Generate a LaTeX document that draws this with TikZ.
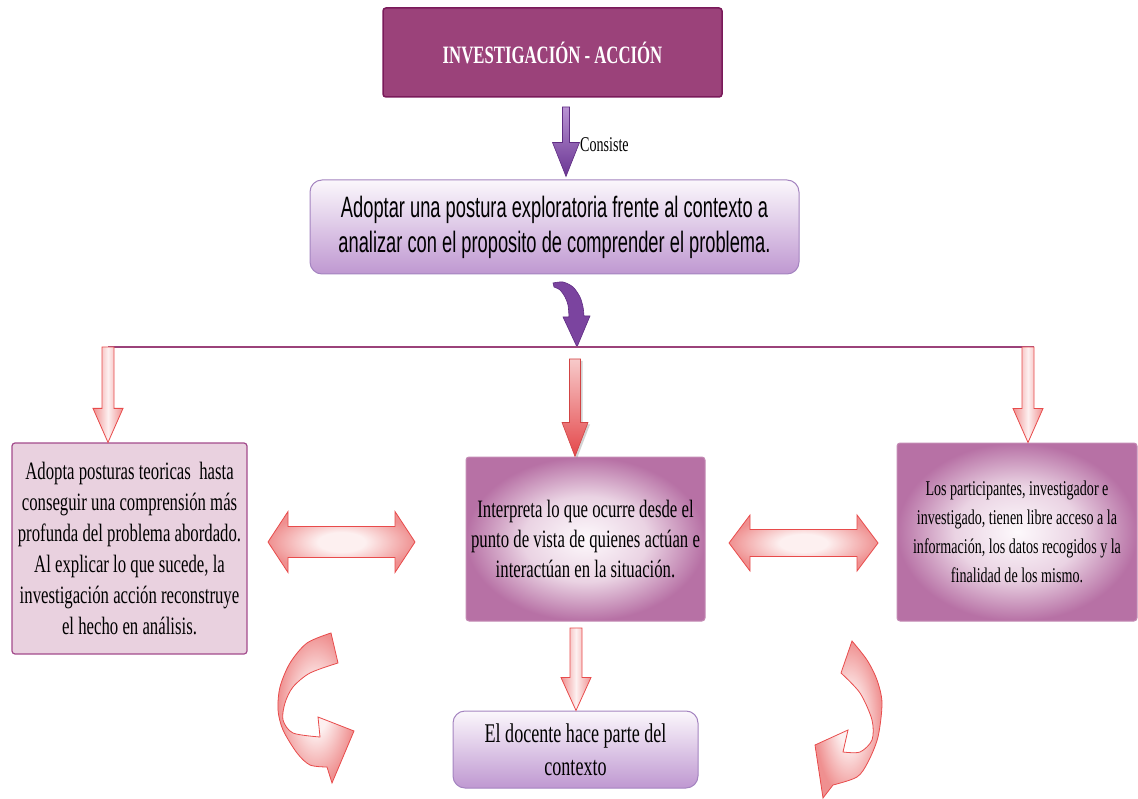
\documentclass[tikz,border=0pt]{standalone}
\usepackage{fontspec}
\usetikzlibrary{calc,positioning,shadows}
\newfontfamily\boxserif[FakeStretch=0.67]{Liberation Serif}
\newfontfamily\boxsans[FakeStretch=0.62]{Liberation Sans}
\definecolor{titlefill}{HTML}{9B427A}
\definecolor{titledraw}{HTML}{7A1A5A}
\definecolor{lilatop}{HTML}{FBF7FC}
\definecolor{lilabottom}{HTML}{BF98D1}
\definecolor{liladraw}{HTML}{A484C0}
\definecolor{pinkfill}{HTML}{E9D1DF}
\definecolor{pinkdraw}{HTML}{A34B8C}
\definecolor{glowinner}{HTML}{FDF9FC}
\definecolor{glowmid}{HTML}{EAD3E3}
\definecolor{glowouter}{HTML}{B771A5}
\definecolor{glowdraw}{HTML}{C48BB4}
\definecolor{reddraw}{HTML}{E84B4B}
\definecolor{redside}{HTML}{EF9090}
\definecolor{redmid}{HTML}{FDF0F0}
\definecolor{redtop}{HTML}{F7CACA}
\definecolor{redbottom}{HTML}{E4474A}
\definecolor{purpletop}{HTML}{B993D3}
\definecolor{purplebottom}{HTML}{6A3593}
\definecolor{purplefill}{HTML}{7B449F}
\definecolor{purpledraw}{HTML}{5F2C83}
\definecolor{ramacolor}{HTML}{9B427A}
\pgfdeclareradialshading{glow}{\pgfpoint{0bp}{0bp}}{color(0bp)=(glowinner); color(13bp)=(glowmid); color(25bp)=(glowouter); color(50bp)=(glowouter)}
\pgfdeclareradialshading{redglow}{\pgfpoint{0bp}{0bp}}{color(0bp)=(redmid); color(8bp)=(redmid); color(25bp)=(redside); color(50bp)=(redside)}
\newcommand{\blockdown}[6]{%
	\path[#1] let \p1=(#2), \p2=(#3) in
		(\x1-#4,\y1) -- (\x1+#4,\y1) -- (\x1+#4,\y2+#6) -- (\x1+#5,\y2+#6) -- (\x1,\y2)
		-- (\x1-#5,\y2+#6) -- (\x1-#4,\y2+#6) -- cycle;}
\newcommand{\blockboth}[6]{%
	\path[#1] let \p1=(#2), \p2=(#3) in
		(\x1,\y1) -- (\x1+#6,\y1+#5) -- (\x1+#6,\y1+#4) -- (\x2-#6,\y1+#4) -- (\x2-#6,\y1+#5)
		-- (\x2,\y1) -- (\x2-#6,\y1-#5) -- (\x2-#6,\y1-#4) -- (\x1+#6,\y1-#4) -- (\x1+#6,\y1-#5) -- cycle;}
\begin{document}
\begin{tikzpicture}
			[x=1pt,y=-1pt,
			titlebox/.style={rectangle,rounded corners=3pt,draw=titledraw,line width=1.5pt,fill=titlefill,text=white,font=\boxserif\bfseries\fontsize{25}{30}\selectfont,minimum width=339pt,minimum height=89pt},
			lilabox/.style={rectangle,rounded corners=12pt,draw=liladraw,line width=1pt,top color=lilatop,bottom color=lilabottom,align=center,inner sep=0pt},
			pinkbox/.style={rectangle,rounded corners=3pt,draw=pinkdraw,line width=1.2pt,fill=pinkfill,align=center,inner sep=0pt,font=\boxserif\fontsize{25}{31}\selectfont},
			glowbox/.style={rectangle,rounded corners=3pt,draw=glowdraw,line width=1pt,shading=glow,align=center,inner sep=0pt},
			rama/.style={draw=ramacolor,line width=1.5pt},
			purplearrow/.style={draw=purpledraw,line width=0.6pt,top color=purpletop,bottom color=purplebottom},
			purplecurve/.style={draw=purpledraw,line width=0.6pt,fill=purplefill},
			redarrow/.style={draw=reddraw,line width=0.8pt,left color=redside,right color=redside,middle color=redmid},
			redstrong/.style={draw=reddraw!90!black,line width=0.6pt,top color=redtop,bottom color=redbottom,drop shadow={shadow xshift=2pt,shadow yshift=-2pt,opacity=0.35}},
			redboth/.style={draw=reddraw,line width=0.8pt,shading=redglow},
			redcurve/.style={draw=reddraw,line width=0.8pt,shading=redglow},
			]
			\useasboundingbox (0,0) rectangle (1138,799);
			\node (accion) [titlebox] at (552.5,52.5) {INVESTIGACIÓN - ACCIÓN};
			\node (postura) [lilabox,minimum width=489pt,minimum height=94pt,font=\boxsans\fontsize{29.5}{35}\selectfont] at (554.5,227)
				{Adoptar una postura exploratoria frente al contexto a\\analizar con el proposito de comprender el problema.};
			\node (teoria) [pinkbox,minimum width=235pt,minimum height=211pt] at (129.5,548.5)
				{Adopta posturas teoricas \ hasta\\conseguir una comprensión más\\profunda del problema abordado.\\Al explicar lo que sucede, la\\investigación acción reconstruye\\el hecho en análisis.};
			\node (interpreta) [glowbox,minimum width=239pt,minimum height=164pt,font=\boxserif\fontsize{25}{30}\selectfont] at (585.5,539)
				{Interpreta lo que ocurre desde el\\punto de vista de quienes actúan e\\interactúan en la situación.};
			\node (acceso) [glowbox,minimum width=240pt,minimum height=178pt,font=\boxserif\fontsize{21}{29}\selectfont] at (1017,532)
				{Los participantes, investigador e\\investigado, tienen libre acceso a la\\información, los datos recogidos y la\\finalidad de los mismo.};
			\node (docente) [lilabox,minimum width=245pt,minimum height=77pt,font=\boxserif\fontsize{27}{33}\selectfont] at (575.5,749.5)
				{El docente hace parte del\\contexto};
			\coordinate (consiste) at (566,107);
			\blockdown{purplearrow}{consiste}{$(postura.north)+(0,-3)$}{3.5pt}{13.5pt}{34pt}
			\node (consistetxt) [anchor=west,inner sep=0pt,font=\boxserif\fontsize{21}{25}\selectfont] at (580,145) {Consiste};
			\path[purplecurve] plot[smooth] coordinates {(553,283) (563,282) (573,287) (580,297) (583,307) (584,316)}
				-- (590,316) -- (577,347) -- (563,317) -- (569,317)
				-- plot[smooth] coordinates {(569,317) (568,305) (565,297) (560,290) (554,287)} -- cycle;
			\coordinate (ramaizq) at (108,347);
			\coordinate (ramader) at (1034,347);
			\coordinate (ramafin) at (1028,347);
			\draw[rama] (ramaizq) -- (ramader);
			\blockdown{redarrow}{ramaizq}{teoria.north}{6pt}{15pt}{34pt}
			\blockdown{redarrow}{ramafin}{acceso.north}{6pt}{15pt}{34pt}
			\coordinate (centro) at (575,359);
			\blockdown{redstrong}{centro}{interpreta.north}{5.5pt}{13pt}{34pt}
			\coordinate (bajo) at (576,628);
			\blockdown{redarrow}{bajo}{docente.north}{6pt}{15pt}{33pt}
			\coordinate (izqA) at (268,542);
			\coordinate (izqB) at (415,542);
			\blockboth{redboth}{izqA}{izqB}{15.5pt}{30.5pt}{20pt}
			\coordinate (derA) at (729,543);
			\coordinate (derB) at (878,543);
			\blockboth{redboth}{derA}{derB}{13.5pt}{28pt}{21pt}
			\path[redcurve] plot[smooth] coordinates {(331,633) (307,643) (290,663) (280,687) (278,710) (283,730) (297,753) (310,765) (327,767)}
				-- (332,783) -- (354,731) -- (318,717) -- (320,737)
				-- plot[smooth] coordinates {(320,737) (293,733) (283,720) (285,703) (293,687) (310,673) (338,663)} -- cycle;
			\path[redcurve] plot[smooth] coordinates {(852,641) (867,660) (877,680) (882,703) (878,737) (868,762) (857,777) (833,785)}
				-- (823,798) -- (815,745) -- (848,730) -- (843,752)
				-- plot[smooth] coordinates {(843,752) (860,752) (872,740) (872,720) (860,693) (841,673)} -- cycle;
\end{tikzpicture}
\end{document}
